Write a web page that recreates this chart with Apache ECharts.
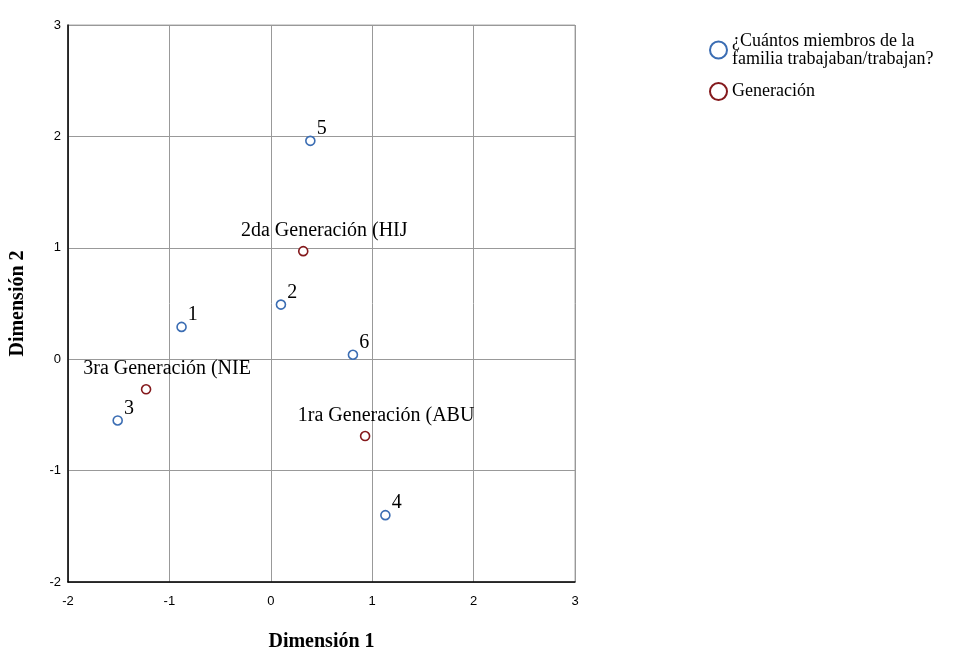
<!DOCTYPE html>
<html><head><meta charset="utf-8">
<script src="https://cdn.jsdelivr.net/npm/echarts@6/dist/echarts.min.js"></script>
<style>html,body{margin:0;padding:0;background:#fff}#c{width:957px;height:648px}</style>
</head><body><div id="c"></div>
<script>
const seriesNames = ['¿Cuántos miembros de la\nfamilia trabajaban/trabajan?', 'Generación'];
const miembrosLabels = ['1', '2', '3', '4', '5', '6'];
const miembrosDim1 = [-0.88, 0.10, -1.51, 1.13, 0.39, 0.81];
const miembrosDim2 = [0.29, 0.49, -0.55, -1.40, 1.96, 0.04];
const genLabels = ['2da Generación (HIJ', '3ra Generación (NIE', '1ra Generación (ABU'];
const genDim1 = [0.32, -1.23, 0.93];
const genDim2 = [0.97, -0.27, -0.69];
const xTicks = [-2, -1, 0, 1, 2, 3];
const yTicks = [-2, -1, 0, 1, 2, 3];

const serif = 'Liberation Serif';
const sans = 'Liberation Sans';
const chart = echarts.init(document.getElementById('c'), null, {renderer: 'canvas'});
const mk = (labels, xs, ys) => labels.map((n, i) => ({name: n, value: [xs[i], ys[i]]}));

chart.setOption({
  animation: false,
  grid: {left: 68, right: 382, top: 25, bottom: 66, show: true, borderColor: '#aaaaaa', borderWidth: 1,
    containLabel: false, outerBoundsMode: 'none'},
  legend: {
    orient: 'vertical', left: 704, top: 27, itemWidth: 17, itemHeight: 17, itemGap: 14,
    icon: 'circle',
    textStyle: {fontFamily: serif, fontSize: 18, color: '#000', lineHeight: 18},
    data: seriesNames
  },
  xAxis: {
    type: 'value', min: xTicks[0], max: xTicks[xTicks.length - 1], interval: 1,
    name: 'Dimensión 1', nameLocation: 'middle', nameGap: 50,
    nameTextStyle: {fontFamily: serif, fontSize: 20, fontWeight: 'bold', color: '#000'},
    axisLine: {onZero: false, lineStyle: {color: '#000', width: 1.5}},
    axisTick: {show: false},
    axisLabel: {fontFamily: sans, fontSize: 13, color: '#000', margin: 13},
    splitLine: {lineStyle: {color: '#999999', width: 1}}
  },
  yAxis: {
    type: 'value', min: yTicks[0], max: yTicks[yTicks.length - 1], interval: 1,
    name: 'Dimensión 2', nameLocation: 'middle', nameGap: 40,
    nameTextStyle: {fontFamily: serif, fontSize: 20, fontWeight: 'bold', color: '#000'},
    axisLine: {onZero: false, lineStyle: {color: '#000', width: 1.5}},
    axisTick: {show: false},
    axisLabel: {fontFamily: sans, fontSize: 13, color: '#000', margin: 7},
    splitLine: {lineStyle: {color: '#999999', width: 1}}
  },
  series: [
    {
      name: seriesNames[0], type: 'scatter', symbol: 'circle', symbolSize: 9,
      itemStyle: {color: '#ffffff', borderColor: '#3b6db3', borderWidth: 1.6, opacity: 1},
      label: {show: true, formatter: '{b}', position: 'right', distance: 1, offset: [0, -12],
        fontFamily: serif, fontSize: 20, color: '#000'},
      data: mk(miembrosLabels, miembrosDim1, miembrosDim2)
    },
    {
      name: seriesNames[1], type: 'scatter', symbol: 'circle', symbolSize: 9,
      itemStyle: {color: '#ffffff', borderColor: '#84191c', borderWidth: 1.6, opacity: 1},
      label: {show: true, formatter: '{b}', position: 'top', distance: 5, offset: [21, 0],
        fontFamily: serif, fontSize: 20, color: '#000'},
      data: mk(genLabels, genDim1, genDim2)
    }
  ]
});
</script></body></html>
